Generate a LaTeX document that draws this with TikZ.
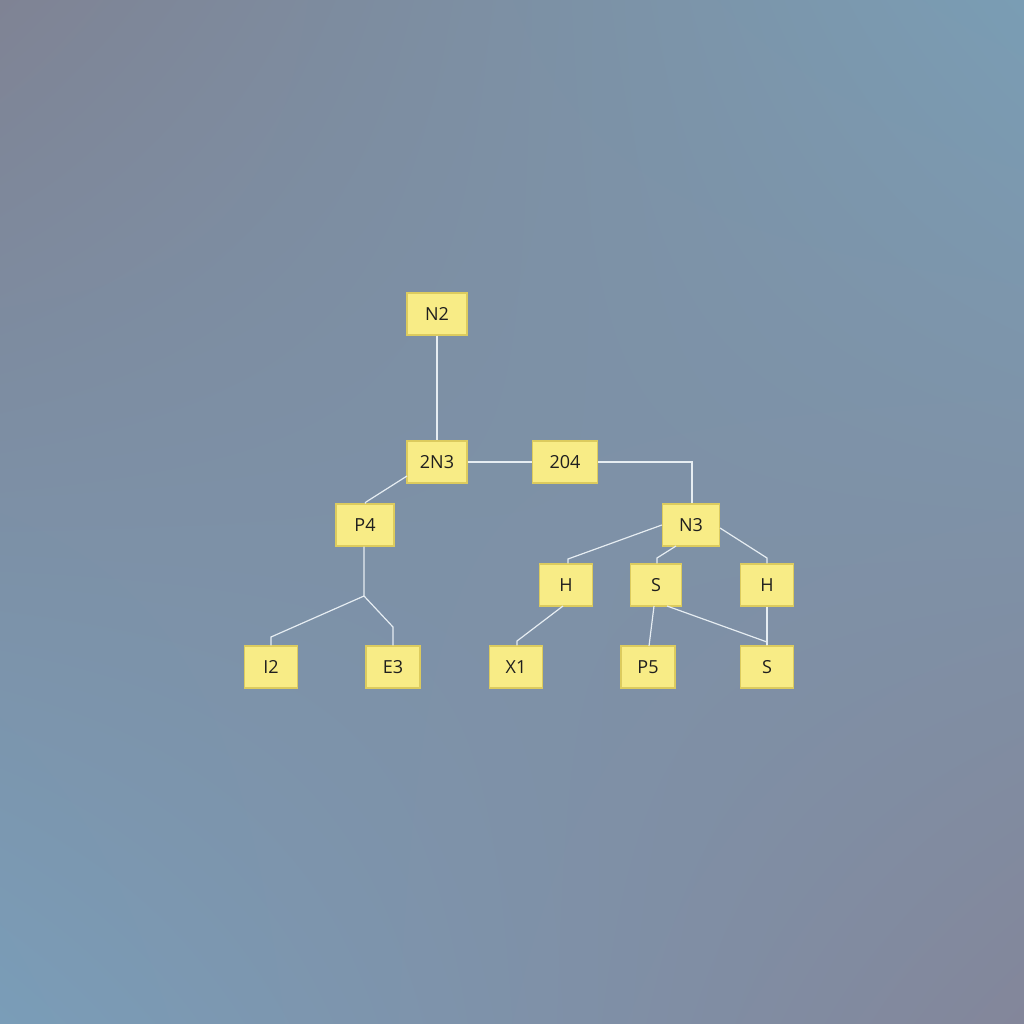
\documentclass[tikz,border=0pt]{standalone}
\usepackage{fontspec}
\setmainfont{Open Sans}
\usetikzlibrary{shadings}
\definecolor{bgUL}{HTML}{7F8394}
\definecolor{bgUR}{HTML}{7A9DB4}
\definecolor{bgLL}{HTML}{7A9DB8}
\definecolor{bgLR}{HTML}{83869A}
\definecolor{boxfill}{HTML}{F8EC86}
\definecolor{boxline}{HTML}{DCCB5E}
\definecolor{wire}{HTML}{E6EDF2}
\tikzset{
  box/.style={draw=boxline, line width=1.2pt, fill=boxfill, minimum height=42pt, inner sep=0pt, font=\fontsize{18}{20}\selectfont, text=black!88},
  wire/.style={draw=wire, line width=1.2pt}
}
\begin{document}
\begin{tikzpicture}[x=1pt,y=-1pt]
\useasboundingbox (0,0) rectangle (1024,1024);
\shade[upper left=bgUL, upper right=bgUR, lower left=bgLL, lower right=bgLR] (0,0) rectangle (1024,1024);
% nodes
\node[box, minimum width=60pt] (n2) at (437,314) {N2};
\node[box, minimum width=60pt] (zn3) at (437,462) {2N3};
\node[box, minimum width=65pt] (t204) at (565,462) {204};
\node[box, minimum width=58pt] (p4) at (365,525) {P4};
\node[box, minimum width=57pt] (n3) at (691,525) {N3};
\node[box, minimum width=53pt] (hl) at (566,585) {H};
\node[box, minimum width=51pt] (sm) at (656,585) {S};
\node[box, minimum width=53pt] (hr) at (767,585) {H};
\node[box, minimum width=53pt] (i2) at (271,667) {I2};
\node[box, minimum width=54pt] (e3) at (393,667) {E3};
\node[box, minimum width=53pt] (x1) at (516,667) {X1};
\node[box, minimum width=54pt] (p5) at (648,667) {P5};
\node[box, minimum width=53pt] (sr) at (767,667) {S};
% junctions
\coordinate (j1) at (692,462);
\coordinate (jp) at (364,596);
\coordinate (ji) at (271,637);
\coordinate (je) at (393,627);
\coordinate (jh) at (568,559);
\coordinate (js) at (657,558);
\coordinate (jr) at (767,558);
\coordinate (jx) at (517,641);
% connectors
\draw[wire] (n2.south) -- (zn3.north);
\draw[wire] (zn3.east) -- (t204.west);
\draw[wire] (t204.east) -- (j1) -- (j1 |- n3.north);
\draw[wire] (407,476) -- (366,502) -- (p4.north);
\draw[wire] (p4.south -| jp) -- (jp) -- (ji) -- (ji |- i2.north);
\draw[wire] (jp) -- (je) -- (je |- e3.north);
\draw[wire] (n3.west) -- (jh) -- (jh |- hl.north);
\draw[wire] (676,546) -- (js) -- (js |- sm.north);
\draw[wire] (720,528) -- (jr) -- (hr.north);
\draw[wire] (563,606) -- (jx) -- (jx |- x1.north);
\draw[wire] (654,606) -- (649,646);
\draw[wire] (667,606) -- (767,642) -- (sr.north);
\draw[wire] (hr.south) -- (sr.north);
\end{tikzpicture}
\end{document}
